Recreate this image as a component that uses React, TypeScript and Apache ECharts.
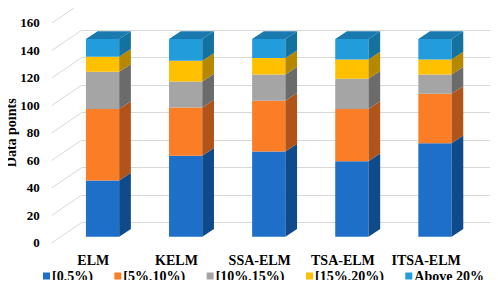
import React, { useEffect, useRef } from "react";
import * as echarts from "echarts";

const categories = ["ELM", "KELM", "SSA-ELM", "TSA-ELM", "ITSA-ELM"];
const seriesNames = ["[0,5%)", "[5%,10%)", "[10%,15%)", "[15%,20%)", "Above 20%"];
const s0to5 = [41, 59, 62, 55, 68];
const s5to10 = [52, 35, 37, 38, 36];
const s10to15 = [27, 19, 19, 22, 14];
const s15to20 = [11, 15, 12, 14, 11];
const sAbove20 = [13, 16, 14, 15, 15];
const yTicks = [0, 20, 40, 60, 80, 100, 120, 140, 160];

const frontColors = ["#1E6FC8", "#FB7D26", "#A5A5A5", "#FFC000", "#229CDB"];
const sideColors = ["#0F4A8A", "#B1541A", "#6B6B6B", "#B58800", "#14729F"];
const topColors = ["#155A9E", "#C9621E", "#858585", "#CC9A00", "#1A7AB0"];

const BAR_DX = 11.7;
const BAR_DY = 7.7;
const WALL_DX = 30;
const WALL_DY = 20.4;
const FONT = "Liberation Serif";

export default function App() {
  const ref = useRef<HTMLDivElement>(null);
  useEffect(() => {
    if (!ref.current) return;
    const chart = echarts.init(ref.current, null, { renderer: "svg" });
    const all = [s0to5, s5to10, s10to15, s15to20, sAbove20];
    const cum = categories.map(() => 0);
    const customSeries = all.map((arr, si) => {
      const data = arr.map((v, ci) => {
        const base = cum[ci];
        cum[ci] += v;
        return [ci, base, base + v, si === all.length - 1 ? 1 : 0];
      });
      return {
        type: "custom",
        name: seriesNames[si],
        xAxisIndex: 0,
        yAxisIndex: 0,
        itemStyle: { color: frontColors[si] },
        data,
        z: 10,
        renderItem: (params: any, api: any) => {
          const c = api.value(0);
          const p0 = api.coord([c, api.value(1)]);
          const p1 = api.coord([c, api.value(2)]);
          const w = api.size([1, 0])[0] * 0.4;
          const x0 = p0[0] - w / 2;
          const children: any[] = [
            {
              type: "rect",
              shape: { x: x0, y: p1[1], width: w, height: p0[1] - p1[1] },
              style: { fill: frontColors[si] },
            },
            {
              type: "polygon",
              shape: {
                points: [
                  [x0 + w, p1[1]],
                  [x0 + w + BAR_DX, p1[1] - BAR_DY],
                  [x0 + w + BAR_DX, p0[1] - BAR_DY],
                  [x0 + w, p0[1]],
                ],
              },
              style: { fill: sideColors[si] },
            },
          ];
          if (api.value(3) === 1) {
            children.push({
              type: "polygon",
              shape: {
                points: [
                  [x0, p1[1]],
                  [x0 + BAR_DX, p1[1] - BAR_DY],
                  [x0 + w + BAR_DX, p1[1] - BAR_DY],
                  [x0 + w, p1[1]],
                ],
              },
              style: { fill: topColors[si] },
            });
          }
          return { type: "group", children };
        },
      };
    });

    const sideWall = {
      type: "custom",
      name: "sidewall",
      xAxisIndex: 2,
      yAxisIndex: 2,
      silent: true,
      z: 1,
      data: yTicks.map((t) => [0, t]),
      renderItem: (params: any, api: any) => {
        const p = api.coord([0, api.value(1)]);
        return {
          type: "line",
          shape: { x1: p[0], y1: p[1], x2: p[0] - WALL_DX, y2: p[1] + WALL_DY },
          style: { stroke: "#D9D9D9", lineWidth: 1 },
        };
      },
    };

    const option: any = {
      animation: false,
      grid: [
        { left: 61, right: 21.5, top: 16.9, bottom: 51.3, outerBoundsMode: "none", containLabel: false },
        { left: 51.7, right: 30.3, top: 22.9, bottom: 45.3, outerBoundsMode: "none", containLabel: false },
        { left: 81.7, right: 0, top: 2.7, bottom: 65.5, outerBoundsMode: "none", containLabel: false },
      ],
      xAxis: [
        { type: "category", data: categories, gridIndex: 0, show: false },
        {
          type: "category",
          data: categories,
          gridIndex: 1,
          axisLine: { show: false },
          axisTick: { show: false },
          axisLabel: {
            interval: 0,
            margin: 11,
            color: "#000",
            fontFamily: FONT,
            fontWeight: "bold",
            fontSize: 14,
          },
        },
        { type: "value", gridIndex: 2, min: 0, max: 1, show: false },
      ],
      yAxis: [
        { type: "value", gridIndex: 0, min: 0, max: 160, interval: 20, show: false },
        {
          type: "value",
          gridIndex: 1,
          min: 0,
          max: 160,
          interval: 20,
          name: "Data points",
          nameLocation: "middle",
          nameGap: 33,
          nameMoveOverlap: false,
          nameTextStyle: { color: "#000", fontFamily: FONT, fontWeight: "bold", fontSize: 14 },
          axisLine: { show: false },
          axisTick: { show: false },
          splitLine: { show: false },
          axisLabel: {
            margin: 12,
            color: "#000",
            fontFamily: FONT,
            fontWeight: "bold",
            fontSize: 13,
          },
        },
        {
          type: "value",
          gridIndex: 2,
          min: 0,
          max: 160,
          interval: 20,
          axisLine: { show: false },
          axisTick: { show: false },
          axisLabel: { show: false },
          splitLine: { show: true, lineStyle: { color: "#D9D9D9", width: 1 } },
        },
      ],
      legend: {
        data: seriesNames.map((n) => ({ name: n, icon: "rect" })),
        bottom: 0,
        left: 38,
        itemWidth: 7,
        itemHeight: 7,
        itemGap: 21.5,
        textStyle: {
          color: "#000",
          fontFamily: FONT,
          fontWeight: "bold",
          fontSize: 14,
          padding: [0, 0, 0, -3],
        },
      },
      series: [sideWall, ...customSeries],
    };
    chart.setOption(option);
    return () => chart.dispose();
  }, []);
  return <div ref={ref} style={{ width: 498, height: 288, margin: -8 }} />;
}
